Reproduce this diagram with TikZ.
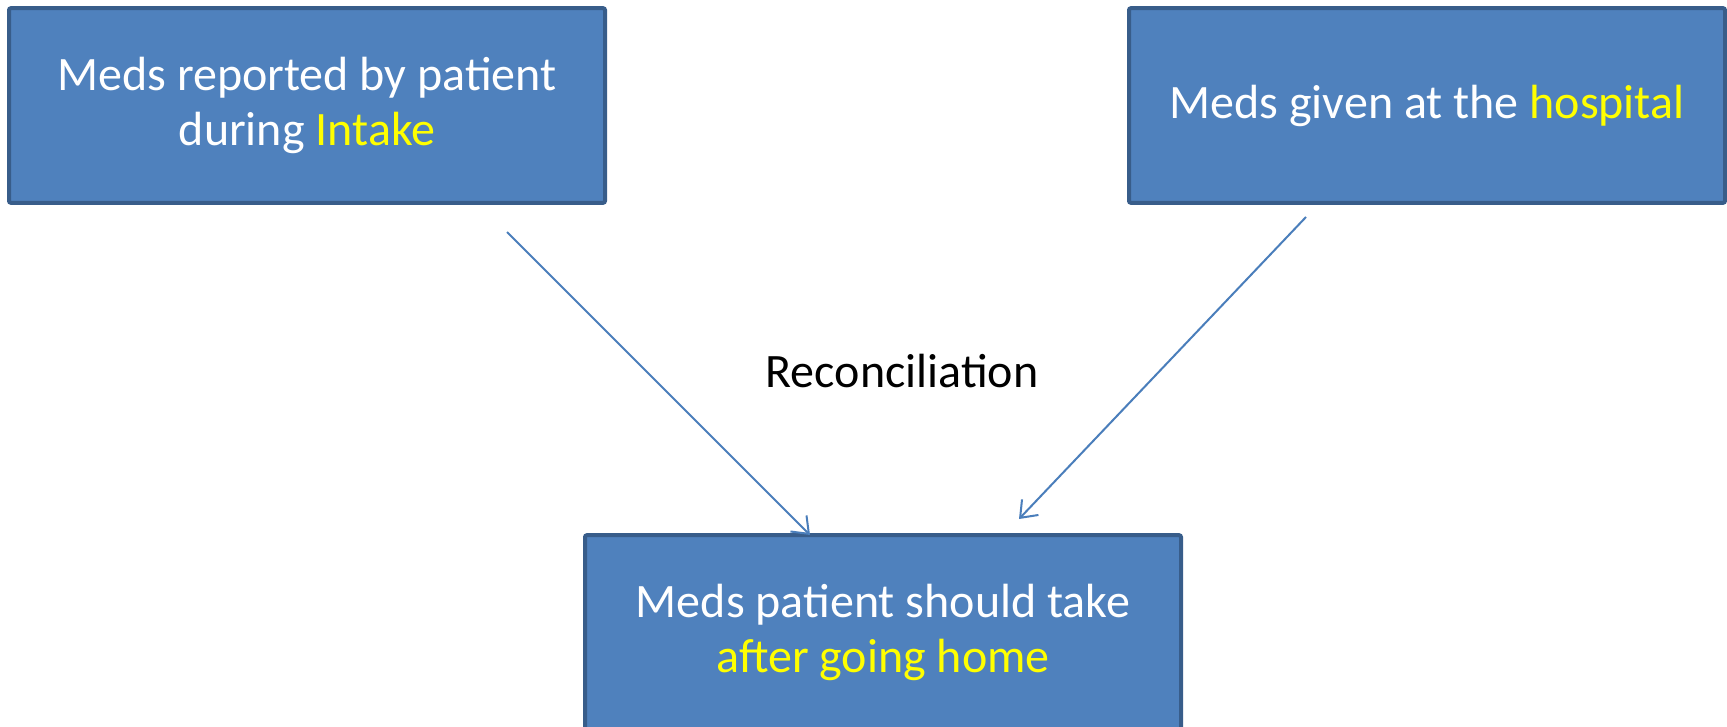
\documentclass[tikz,border=0pt]{standalone}
\usepackage{fontspec}
\setmainfont{Carlito}
\usetikzlibrary{arrows.meta}
\definecolor{boxfill}{HTML}{4F81BD}
\definecolor{boxline}{HTML}{385D8A}
\definecolor{flowline}{HTML}{4A7EBB}
\definecolor{hilite}{HTML}{FFFF00}
\tikzset{
    medbox/.style={draw=boxline, fill=boxfill, line width=3pt, rounded corners=1.5pt,
        minimum width=447pt, minimum height=146pt, align=center, text=white,
        font=\fontsize{36}{41}\selectfont},
    flow/.style={draw=flowline, line width=1.5pt, -{Straight Barb[length=11pt,width=17pt,line width=1.5pt]}},
}
\begin{document}
\begin{tikzpicture}[x=0.75pt,y=0.75pt,yscale=-1,xscale=1]
\useasboundingbox [fill=white] (0,0) rectangle (1727,727);

% Boxes
\draw (307,105.5) node [medbox] (intake) {Meds reported by patient\\during \textcolor{hilite}{Intake}};
\draw (1427,105.5) node [medbox] (hospital) {Meds given at the \textcolor{hilite}{hospital}};
\draw (883,632.5) node [medbox] (home) {Meds patient should take\\\textcolor{hilite}{after going home}};

% Text Node
\draw (902,371) node [font=\fontsize{36}{41}\selectfont] (recon) {Reconciliation};

% Arrows
\coordinate (fromintake) at (507,232);
\coordinate (tohome1) at (810,535);
\coordinate (fromhospital) at (1306,217);
\coordinate (tohome2) at (1019,519);
\draw [flow] (fromintake) -- (tohome1);
\draw [flow] (fromhospital) -- (tohome2);

\end{tikzpicture}
\end{document}
